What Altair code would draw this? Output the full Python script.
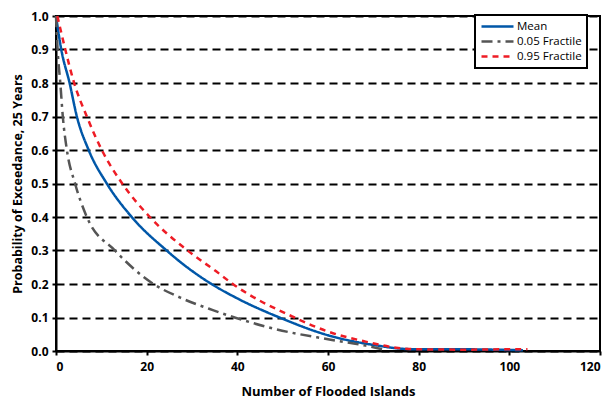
import altair as alt
import pandas as pd

series_names = ["Mean", "0.05 Fractile", "0.95 Fractile"]
series_colors = ["#0057A8", "#555555", "#EE1C25"]
series_dashes = [[1, 0], [11, 5, 3, 5], [6, 5]]

mean_x = [0, 1.16, 3.0, 4.6, 7.2, 11.2, 16.7, 24.4, 27.3, 34.3, 40, 49.3, 60, 71, 76, 80, 90, 100, 103]
mean_y = [1.0, 0.9, 0.8, 0.7, 0.6, 0.5, 0.4, 0.3, 0.267, 0.2, 0.157, 0.1, 0.047, 0.016, 0.007, 0.005, 0.005, 0.003, 0.002]

lo_x = [0, 0.35, 0.95, 1.5, 2.4, 4.2, 6.8, 13, 21.5, 27.3, 34.6, 39.4, 48.5, 60, 68.3, 73]
lo_y = [1.0, 0.9, 0.8, 0.7, 0.6, 0.5, 0.4, 0.3, 0.2, 0.16, 0.122, 0.1, 0.065, 0.035, 0.016, 0.002]

hi_x = [0.3, 2.05, 4.0, 6.8, 10.1, 14.6, 20.7, 29, 35.4, 39, 52.6, 60, 68.3, 75, 80, 90, 100, 104]
hi_y = [1.0, 0.9, 0.8, 0.7, 0.6, 0.5, 0.4, 0.3, 0.237, 0.2, 0.1, 0.058, 0.028, 0.01, 0.005, 0.004, 0.005, 0.005]

x_ticks = [0, 20, 40, 60, 80, 100, 120]
y_ticks = [0.0, 0.1, 0.2, 0.3, 0.4, 0.5, 0.6, 0.7, 0.8, 0.9, 1.0]

rows = []
for name, xs, ys in [("Mean", mean_x, mean_y), ("0.05 Fractile", lo_x, lo_y), ("0.95 Fractile", hi_x, hi_y)]:
    for i, (a, b) in enumerate(zip(xs, ys)):
        rows.append({"series": name, "x": a, "y": b, "i": i})
df = pd.DataFrame(rows)

FONT = "Open Sans"

chart = alt.Chart(df).mark_line(strokeWidth=2.5, interpolate="monotone").encode(
    x=alt.X("x:Q", scale=alt.Scale(domain=[0, 120], nice=False),
            axis=alt.Axis(values=x_ticks, title="Number of Flooded Islands", grid=False,
                          labelPadding=6, titlePadding=13)),
    y=alt.Y("y:Q", scale=alt.Scale(domain=[0, 1], nice=False),
            axis=alt.Axis(values=y_ticks, format=".1f", title="Probability of Exceedance, 25 Years",
                          grid=True, gridDash=[8, 5], gridColor="black", gridWidth=2,
                          labelPadding=4, titlePadding=6)),
    color=alt.Color("series:N", sort=series_names,
                    scale=alt.Scale(domain=series_names, range=series_colors),
                    legend=alt.Legend(title=None, orient="none", legendX=419, legendY=-1)),
    strokeDash=alt.StrokeDash("series:N", sort=series_names,
                              scale=alt.Scale(domain=series_names, range=series_dashes),
                              legend=alt.Legend(title=None, orient="none", legendX=419, legendY=-1)),
    order="i:Q",
).properties(
    width=544, height=335,
    autosize=alt.AutoSizeParams(type="none"),
    padding={"left": 48, "top": 8, "right": 4, "bottom": 50},
).configure_view(
    stroke="black", strokeWidth=2
).configure_axis(
    domainColor="black", domainWidth=2, tickColor="black", tickWidth=2, tickSize=4,
    labelFont=FONT, labelFontWeight="bold", labelFontSize=12, labelColor="black",
    titleFont=FONT, titleFontWeight="bold", titleFontSize=13, titleColor="black",
).configure_axisY(
    titleFontSize=12.5
).configure_legend(
    fillColor="white", strokeColor="black", strokeWidth=2, padding=5,
    symbolType="stroke", symbolStrokeWidth=2.5, symbolSize=1024, clipHeight=13,
    labelFont=FONT, labelFontSize=11.5, labelColor="black", rowPadding=2,
    labelOffset=2,
)

chart.save("out.html", embed_options={"renderer": "svg", "actions": False})
